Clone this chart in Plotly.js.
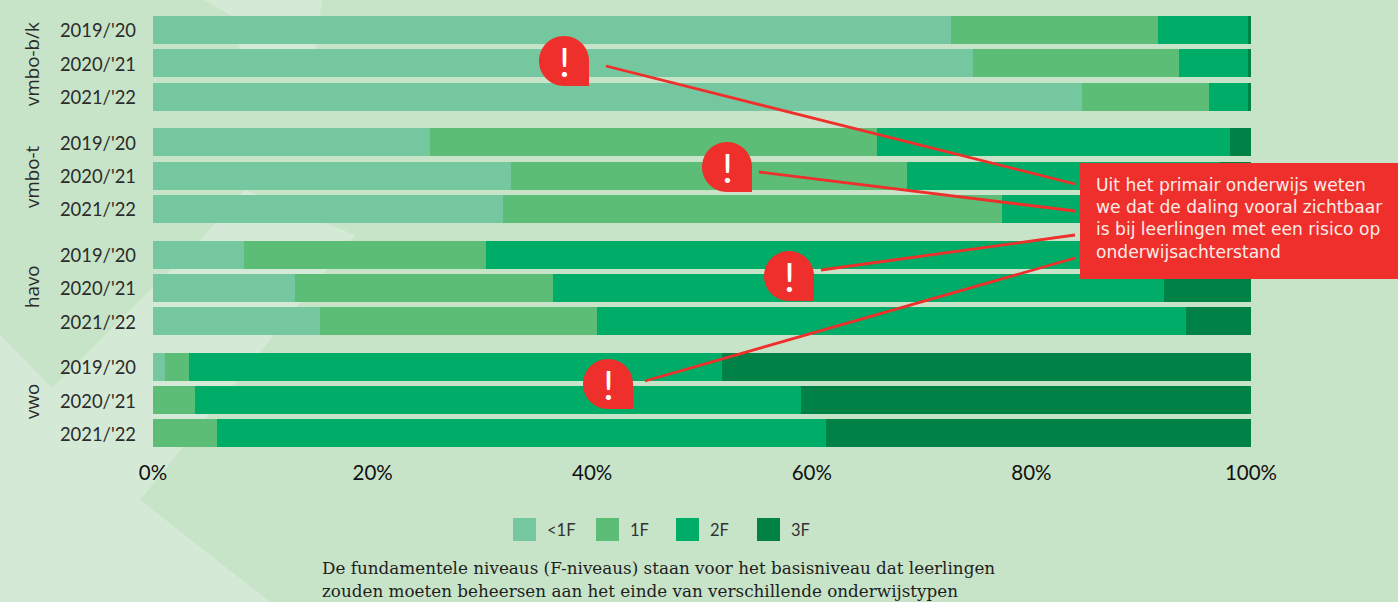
<!DOCTYPE html>
<html>
<head>
<meta charset="utf-8">
<script src="https://cdn.plot.ly/plotly-3.0.1.min.js"></script>
<style>html,body{margin:0;padding:0;background:#C8E4C8;overflow:hidden}#c{width:1398px;height:602px}</style>
</head>
<body>
<div id="c"></div>
<script>
const groups = ["vmbo-b/k", "vmbo-t", "havo", "vwo"];
const years = ["2019/'20", "2020/'21", "2021/'22"];
const seriesNames = ["<1F", "1F", "2F", "3F"];
const seriesColors = ["#74C79E", "#5CBD76", "#00AD68", "#008145"];
const below1F = [72.7, 74.7, 84.6, 25.2, 32.6, 31.9, 8.3, 12.9, 15.2, 1.1, 0, 0];
const level1F = [18.8, 18.7, 11.6, 40.7, 36.1, 45.4, 22.0, 23.5, 25.2, 2.2, 3.8, 5.8];
const level2F = [8.2, 6.3, 3.5, 32.2, 28.5, 20.2, 59.7, 55.7, 53.7, 48.5, 55.2, 55.5];
const level3F = [0.3, 0.3, 0.3, 1.9, 2.8, 2.5, 10.0, 7.9, 5.9, 48.2, 41.0, 38.7];
const xTicks = [0, 20, 40, 60, 80, 100];
const calloutLines = ["Uit het primair onderwijs weten", "we dat de daling vooral zichtbaar", "is bij leerlingen met een risico op", "onderwijsachterstand"];
const footerLines = ["De fundamentele niveaus (F-niveaus) staan voor het basisniveau dat leerlingen", "zouden moeten beheersen aan het einde van verschillende onderwijstypen"];

const RED = "#EF2F2B", LIGHT = "#D5EAD6";
const W = 1398, H = 602, L = 153, R = 1251, B = 460;
const px = x => (x - L) / (R - L);
const py = y => 1 - y / B;
const P = (x, y) => px(x) + "," + py(y);
const poly = pts => "M" + pts.map(p => P(p[0], p[1])).join(" L") + " Z";

// row positions: three rows per group, with a wider gap between groups
const GAP = 0.372, UNIT = 33.3, TOP = 30;
const rowPos = [], rowLabels = [];
groups.forEach((g, gi) => years.forEach((yr, yi) => {
  rowPos.push(gi * 3 + yi + gi * GAP);
  rowLabels.push(yr);
}));

const seriesValues = [below1F, level1F, level2F, level3F];
const traces = seriesNames.map((n, i) => ({
  type: "bar", orientation: "h", name: n,
  y: rowPos, x: seriesValues[i], width: 0.84,
  marker: {color: seriesColors[i], line: {width: 0}},
  hoverinfo: "x+name"
}));

const shapes = [];
// light brush texture in the background
[
  [[0,335],[52,388],[205,235],[245,190],[355,235],[140,500],[270,602],[0,602]],
  [[204,0],[232,16],[240,50],[315,50],[322,0]]
].forEach(p => shapes.push({type:"path", layer:"below", xref:"paper", yref:"paper", path:poly(p), fillcolor:LIGHT, line:{width:0}}));

// callout leader lines
[[606,66,1075,184],[759,172,1075,211],[821,270,1075,235],[645,381,1075,258]].forEach(s =>
  shapes.push({type:"line", xref:"paper", yref:"paper", x0:px(s[0]), y0:py(s[1]), x1:px(s[2]), y1:py(s[3]), line:{color:RED, width:2.8}}));

// callout box
shapes.push({type:"rect", xref:"paper", yref:"paper", x0:px(1080), x1:px(1398), y0:py(163), y1:py(279), fillcolor:RED, line:{width:0}});

// warning bubbles: circle with one square corner
const bubbles = [[564,61],[727,167],[789,276],[608,384]];
bubbles.forEach(b => {
  const [c, d] = b, r = 25, k = r * 0.5523;
  const path = "M" + P(c, d - r) +
    " C" + P(c + k, d - r) + " " + P(c + r, d - k) + " " + P(c + r, d) +
    " L" + P(c + r, d + r) + " L" + P(c, d + r) +
    " C" + P(c - k, d + r) + " " + P(c - r, d + k) + " " + P(c - r, d) +
    " C" + P(c - r, d - k) + " " + P(c - k, d - r) + " " + P(c, d - r) + " Z";
  shapes.push({type:"path", xref:"paper", yref:"paper", path, fillcolor:RED, line:{width:0}});
});

const SANS = "Lato, 'Open Sans', sans-serif";
const annotations = [];
const note = (x, y, text, font, extra) => annotations.push(Object.assign({
  xref:"paper", yref:"paper", x:px(x), y:py(y), text, showarrow:false, font, xanchor:"left", yanchor:"middle", borderpad:0
}, extra || {}));

bubbles.forEach(b => note(b[0], b[1], "!", {family:SANS, size:41, color:"#FFFFFF", weight:400}, {xanchor:"center"}));
note(1095, 218.5, calloutLines.join("<br>"), {family:"'DejaVu Sans', sans-serif", size:17.1, color:"#FDECE8"}, {align:"left"});
footerLines.forEach((t, i) => note(321, 568 + i * 23, t, {family:"'DejaVu Serif', serif", size:16.8, color:"#1E1E1E"}));
[64, 177, 287, 402].forEach((y, i) => note(32, y, groups[i], {family:"'Open Sans', sans-serif", size:18.8, color:"#2B2B2B"}, {textangle:-90, xanchor:"center"}));

// legend row
[513, 596, 676, 757].forEach((x, i) => {
  shapes.push({type:"rect", xref:"paper", yref:"paper", x0:px(x), x1:px(x + 23), y0:py(518), y1:py(541), fillcolor:seriesColors[i], line:{width:0}});
  note(x + 33, 530, seriesNames[i].replace("<", "&lt;"), {family:SANS, size:16.5, color:"#333333"});
});

const layout = {
  width:W, height:H, autosize:false, showlegend:false, barmode:"stack",
  paper_bgcolor:"#C8E4C8", plot_bgcolor:"rgba(0,0,0,0)",
  margin:{l:L, r:W - R, t:0, b:H - B, pad:0},
  font:{family:SANS},
  xaxis:{range:[0,100], tickvals:xTicks, ticktext:xTicks.map(v => v + "%"), showgrid:false, zeroline:false, showline:false, ticks:"", fixedrange:true,
    tickfont:{family:SANS, size:20.5, color:"#111111"}, ticklabelstandoff:-2},
  yaxis:{range:[(B - TOP) / UNIT, -TOP / UNIT], tickvals:rowPos, ticktext:rowLabels, showgrid:false, zeroline:false, showline:false, ticks:"", fixedrange:true,
    tickfont:{family:SANS, size:18.4, color:"#2B2B2B"}, ticklabelstandoff:16, ticklabelshift:-1},
  shapes, annotations
};
Plotly.newPlot("c", traces, layout, {displayModeBar:false, staticPlot:true});
</script>
</body>
</html>
